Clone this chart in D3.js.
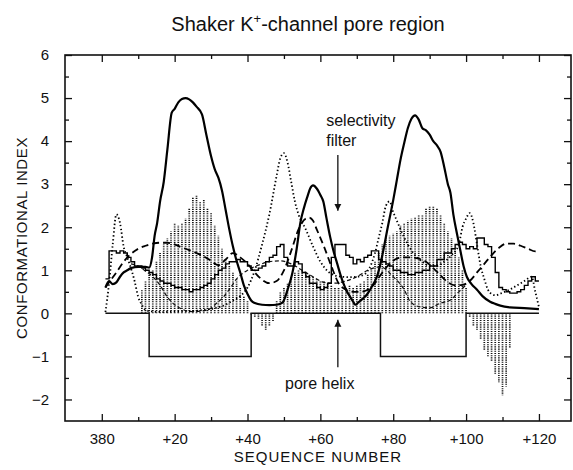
<!DOCTYPE html>
<html>
<head>
<meta charset="utf-8">
<script src="https://cdn.jsdelivr.net/npm/d3@7"></script>
<style>
  body { margin: 0; background: #fff; }
  text { font-family: "Liberation Sans", Arial, sans-serif; fill: #111; }
</style>
</head>
<body>
<div id="chart"></div>
<script>
// sequence offsets are relative to residue 380

// bold solid profile
const boldProfile = [[1,0.6],[2,0.75],[3,0.68],[4,0.72],[5,0.85],[6,0.95],[7,1.0],[8,1.05],[9,1.07],[10,1.08],[11,1.08],[12,1.08],[13,1.06],[13.8,1.3],[14.5,1.8],[15.2,2.1],[16,2.6],[17,3.05],[18,3.8],[19.2,4.66],[20,4.75],[21,4.9],[22,4.98],[23,5.0],[24,4.97],[25,4.9],[26,4.8],[27.5,4.62],[28.7,4.15],[30,3.65],[31,3.35],[32,3.15],[33,2.85],[34,2.4],[35,1.95],[36,1.55],[37,1.22],[38,0.95],[39,0.65],[40,0.45],[41,0.3],[42,0.24],[44,0.2],[46,0.19],[48,0.2],[49.6,0.25],[51,0.55],[52.3,0.93],[53.5,1.5],[54.5,2.1],[55.5,2.45],[56.4,2.7],[57.2,2.9],[58,2.97],[59,2.9],[60,2.75],[60.8,2.6],[61.7,2.2],[62.7,1.77],[63.6,1.45],[64.6,1.16],[65.5,0.9],[66.3,0.7],[67.2,0.52],[68.2,0.38],[69,0.27],[69.6,0.2],[70.5,0.26],[71.5,0.33],[72.9,0.45],[74,0.6],[75,0.75],[75.6,0.87],[76.5,1.15],[77.3,1.47],[78.5,2.0],[80,2.63],[81,3.1],[82,3.57],[83,3.95],[84,4.3],[85,4.52],[86,4.6],[87,4.5],[88,4.3],[89,4.25],[90,4.15],[91,4.0],[92,3.9],[93,3.75],[94,3.4],[95,3.0],[95.7,2.8],[96.5,2.3],[97.5,1.85],[98.4,1.47],[99.3,1.1],[100.2,0.85],[101.5,0.68],[103,0.55],[104.5,0.4],[106.6,0.27],[108,0.22],[109.4,0.18],[112,0.14],[116,0.12],[120,0.1]];

// dotted profile
const dottedProfile = [[1,0.03],[2,0.7],[3,1.6],[4,2.3],[5,2.1],[6,1.55],[7,1.3],[8,1.05],[9,0.75],[10,0.38],[11,0.2],[12,0.08],[14,0.04],[17,0.03],[20,0.04],[24,0.05],[28,0.08],[31,0.12],[34,0.2],[36,0.3],[38,0.4],[40,0.6],[42,1.0],[44,1.6],[46,2.3],[48,3.2],[49,3.6],[50,3.72],[51,3.5],[52,3.05],[53,2.6],[54,2.3],[56,1.95],[58,1.55],[60,1.2],[62,0.98],[64,0.88],[66,0.85],[68,0.84],[70,0.85],[72,0.9],[74,1.15],[75,1.4],[76,1.75],[77,2.1],[78,2.5],[79,2.6],[80,2.35],[81,2.15],[82,1.95],[84,1.6],[86,1.35],[88,1.2],[90,1.1],[92,1.1],[94,1.2],[96,1.35],[98,1.6],[99,2.0],[100,2.2],[101,2.33],[102,2.1],[103,1.6],[104,1.1],[105,0.8],[106,0.55],[107,0.45],[108,0.42],[110,0.48],[112,0.55],[114,0.65],[116,0.75],[118,0.85],[119,0.5],[120,0.15]];

// long-dashed profile
const dashedProfile = [[1,0.6],[2,0.72],[4,0.95],[6,1.2],[8,1.38],[10,1.5],[12,1.57],[14,1.62],[16,1.64],[18,1.64],[20,1.6],[22,1.53],[24,1.47],[26,1.4],[28,1.32],[30,1.22],[32,1.12],[34,1.25],[36,1.4],[38,1.3],[40,1.15],[42,0.95],[44,0.78],[46,0.7],[48,0.75],[50,1.0],[52,1.45],[54,1.95],[56,2.2],[57,2.22],[58,2.15],[59,1.95],[61,1.55],[63,1.1],[65,0.7],[67,0.55],[69,0.5],[71,0.5],[73,0.55],[75,0.7],[77,0.95],[79,1.15],[81,1.27],[83,1.3],[85,1.3],[87,1.27],[89,1.2],[91,1.05],[93,0.88],[95,0.72],[97,0.65],[99,0.66],[101,0.75],[103,0.95],[105,1.15],[107,1.35],[109,1.52],[111,1.62],[113,1.62],[115,1.57],[117,1.5],[119,1.44],[120,1.44]];

// thin bowl-shaped profile
const bowlProfile = [[8,1.15],[10,1.1],[12,0.98],[14,0.85],[16,0.65],[18,0.38],[20,0.2],[22,0.1],[25,0.04],[29,0.08],[31.6,0.24],[33.4,0.38],[35.2,0.58],[37,0.8],[40,1.0],[43,1.12],[46,1.2],[49,1.22],[52,1.15],[55,1.0],[58,0.85],[61,0.72],[64,0.7],[67,0.75],[70,0.85],[73,1.0],[76.5,1.08],[80,0.85],[83,0.55],[84.7,0.27],[87.4,0.15],[90,0.13],[93,0.24],[95.7,0.31],[98,0.5],[100,0.66]];

// step profile (one value per residue)
const stepProfile = [[1,0.8],[2,1.45],[3,1.45],[4,1.4],[5,1.45],[6,1.4],[7,1.3],[8,1.2],[9,1.1],[10,1.1],[11,1.05],[12,1.0],[13,0.95],[14,0.9],[15,0.8],[16,0.75],[17,0.7],[18,0.7],[19,0.65],[20,0.6],[21,0.6],[22,0.55],[23,0.55],[24,0.5],[25,0.55],[26,0.55],[27,0.6],[28,0.65],[29,0.7],[30,0.8],[31,0.9],[32,1.0],[33,1.05],[34,1.15],[35,1.2],[36,1.2],[37,1.25],[38,1.2],[39,1.2],[40,1.1],[41,1.0],[42,1.0],[43,1.05],[44,1.1],[45,1.2],[46,1.3],[47,1.35],[48,1.55],[49,1.6],[50,1.3],[51,1.1],[52,1.1],[53,1.2],[54,1.15],[55,0.95],[56,0.85],[57,0.7],[58,0.7],[59,0.6],[60,0.55],[61,0.6],[62,0.7],[63,1.3],[64,1.6],[65,1.6],[66,1.6],[67,1.35],[68,1.3],[69,1.15],[70,1.25],[71,1.2],[72,1.3],[73,1.35],[74,1.45],[75,1.45],[76,1.25],[77,1.2],[78,1.15],[79,1.1],[80,1.0],[82,0.95],[84,0.9],[86,0.95],[88,1.0],[90,1.1],[92,1.25],[94,1.4],[96,1.5],[97,1.6],[98,1.65],[99,1.6],[100,1.5],[101,1.55],[102,1.5],[103,1.75],[104,1.75],[105,1.6],[106,1.55],[107,1.3],[108,0.95],[109,0.6],[110,0.55],[111,0.5],[112,0.47],[113,0.47],[114,0.5],[115,0.55],[116,0.65],[117,0.75],[118,0.85],[119,0.75],[120,0.75]];

// stippled bars, one per residue
const stippleSeq = d3.range(11, 113);
const stippleVal = [0.55,0.75,0.9,1.0,1.2,1.4,1.6,1.75,1.9,2.1,2.05,2.1,2.2,2.45,2.7,2.75,2.6,2.65,2.45,2.35,2.05,1.8,1.5,1.25,1.1,0.95,0.8,0.6,0.4,0.3,
  -0.05,-0.1,-0.15,-0.3,-0.4,-0.3,-0.2,
  0.3,0.5,0.6,0.7,0.85,0.95,1.0,1.0,0.95,0.9,0.85,0.8,0.75,0.75,0.7,0.65,0.6,0.6,0.55,0.6,0.65,0.6,0.65,0.7,0.75,0.9,1.05,1.2,1.4,
  1.6,1.75,1.8,1.85,1.9,2.05,2.1,2.15,2.2,2.25,2.3,2.3,2.45,2.5,2.5,2.45,2.3,2.1,1.9,1.75,1.5,1.3,1.0,0.6,
  -0.1,-0.3,-0.4,-0.6,-0.85,-1.0,-1.1,-1.4,-1.6,-1.9,-1.7,-0.8];

// pore region outline (0 / -1 blocks)
const blockSeq = [1,13,13,41,41,76.5,76.5,100,100,120];
const blockVal = [0,0,-1,-1,0,0,-1,-1,0,0];

const xMajor = [0,20,40,60,80,100,120];
const xMinor = [10,30,50,70,90,110];
const yMajor = [-2,-1,0,1,2,3,4,5,6];
const yMinor = [-1.5,-0.5,0.5,1.5,2.5,3.5,4.5,5.5];
const xLabel = d => d === 0 ? '380' : '+' + d;

const width = 573, height = 470;
const margin = {t:55, r:2, b:49, l:65};

const svg = d3.select('#chart').append('svg')
  .attr('width', width).attr('height', height);

const x = d3.scaleLinear().domain([-10.1, 128.8]).range([margin.l, width - margin.r]);
const y = d3.scaleLinear().domain([-2.5, 6]).range([height - margin.b, margin.t]);

const font = '"Liberation Sans", Arial, sans-serif';

// stipple bars
svg.append('g').attr('class','stipple')
  .selectAll('line')
  .data(stippleSeq.map((s,i) => [s, stippleVal[i]]))
  .enter().append('line')
  .attr('x1', d => x(d[0])).attr('x2', d => x(d[0]))
  .attr('y1', y(0)).attr('y2', d => y(d[1]))
  .attr('stroke', '#111')
  .attr('stroke-width', 1.7)
  .attr('stroke-dasharray', '1.1,1.1');

const smooth = d3.line().x(d => x(d[0])).y(d => y(d[1])).curve(d3.curveMonotoneX);
const stepped = d3.line().x(d => x(d[0])).y(d => y(d[1])).curve(d3.curveStepAfter);
const straight = d3.line().x(d => x(d[0])).y(d => y(d[1]));

svg.append('path').attr('d', straight(blockSeq.map((s,i) => [s, blockVal[i]])))
  .attr('fill','none').attr('stroke','#111').attr('stroke-width',1.5);

svg.append('path').attr('d', smooth(bowlProfile))
  .attr('fill','none').attr('stroke','#111').attr('stroke-width',1.2)
  .attr('stroke-dasharray','4,2.5');

svg.append('path').attr('d', stepped(stepProfile))
  .attr('fill','none').attr('stroke','#000').attr('stroke-width',1.4);

svg.append('path').attr('d', smooth(dashedProfile))
  .attr('fill','none').attr('stroke','#000').attr('stroke-width',1.8)
  .attr('stroke-dasharray','7,4');

svg.append('path').attr('d', smooth(dottedProfile))
  .attr('fill','none').attr('stroke','#000').attr('stroke-width',1.8)
  .attr('stroke-dasharray','1.4,2.4');

svg.append('path').attr('d', smooth(boldProfile))
  .attr('fill','none').attr('stroke','#000').attr('stroke-width',2.2);

// axes (ticks inward)
function styleAxis(g){
  g.select('.domain').remove();
  g.attr('font-family', font).attr('font-size', 15);
  g.selectAll('line').attr('stroke','#111').attr('stroke-width',1.3);
  g.selectAll('text').style('fill','#111');
}
const plotH = height - margin.b;
svg.append('g').attr('transform',`translate(0,${plotH})`)
  .call(d3.axisBottom(x).tickValues(xMajor).tickSize(-7).tickSizeOuter(0).tickPadding(12).tickFormat(xLabel))
  .call(styleAxis);
svg.append('g').attr('transform',`translate(0,${plotH})`)
  .call(d3.axisBottom(x).tickValues(xMinor).tickSize(-4).tickSizeOuter(0).tickFormat(''))
  .call(styleAxis);
svg.append('g').attr('transform',`translate(0,${margin.t})`)
  .call(d3.axisTop(x).tickValues(xMajor).tickSize(-7).tickSizeOuter(0).tickFormat(''))
  .call(styleAxis);
svg.append('g').attr('transform',`translate(0,${margin.t})`)
  .call(d3.axisTop(x).tickValues(xMinor).tickSize(-4).tickSizeOuter(0).tickFormat(''))
  .call(styleAxis);
svg.append('g').attr('transform',`translate(${margin.l},0)`)
  .call(d3.axisLeft(y).tickValues(yMajor).tickSize(-7).tickSizeOuter(0).tickPadding(16).tickFormat(d3.format('d')))
  .call(styleAxis);
svg.append('g').attr('transform',`translate(${margin.l},0)`)
  .call(d3.axisLeft(y).tickValues(yMinor).tickSize(-4).tickSizeOuter(0).tickFormat(''))
  .call(styleAxis);
svg.append('g').attr('transform',`translate(${width - margin.r},0)`)
  .call(d3.axisRight(y).tickValues(yMajor).tickSize(-7).tickSizeOuter(0).tickFormat(''))
  .call(styleAxis);
svg.append('g').attr('transform',`translate(${width - margin.r},0)`)
  .call(d3.axisRight(y).tickValues(yMinor).tickSize(-4).tickSizeOuter(0).tickFormat(''))
  .call(styleAxis);

// frame
svg.append('rect')
  .attr('x', margin.l).attr('y', margin.t)
  .attr('width', width - margin.r - margin.l).attr('height', plotH - margin.t)
  .attr('fill','none').attr('stroke','#111').attr('stroke-width',1.6);

// arrows
const defs = svg.append('defs');
defs.append('marker').attr('id','head')
  .attr('viewBox','0 0 10 10').attr('refX',10).attr('refY',5)
  .attr('markerWidth',7).attr('markerHeight',9).attr('markerUnits','userSpaceOnUse')
  .attr('orient','auto')
  .append('path').attr('d','M0,0L10,5L0,10z').attr('fill','#111');

svg.append('line')
  .attr('x1', x(64.8)).attr('x2', x(64.8)).attr('y1', y(3.68)).attr('y2', y(2.38))
  .attr('stroke','#111').attr('stroke-width',1.3).attr('marker-end','url(#head)');
svg.append('line')
  .attr('x1', x(64.8)).attr('x2', x(64.8)).attr('y1', y(-1.25)).attr('y2', y(-0.15))
  .attr('stroke','#111').attr('stroke-width',1.3).attr('marker-end','url(#head)');

// annotation text
svg.append('text').attr('x', x(61.6)).attr('y', y(4.35)).attr('font-size',16).text('selectivity');
svg.append('text').attr('x', x(61.6)).attr('y', y(3.88)).attr('font-size',16).text('filter');
svg.append('text').attr('x', x(50.3)).attr('y', y(-1.75)).attr('font-size',16).text('pore helix');

// titles
const title = svg.append('text').attr('x', 308).attr('y', 31)
  .attr('text-anchor','middle').attr('font-size',20);
title.append('tspan').text('Shaker K');
title.append('tspan').attr('dy',-8).attr('font-size',13).text('+');
title.append('tspan').attr('dy',8).text('-channel pore region');

svg.append('text').attr('x', 318).attr('y', 462)
  .attr('text-anchor','middle').attr('font-size',15).attr('letter-spacing',1)
  .text('SEQUENCE  NUMBER');

svg.append('text')
  .attr('transform','translate(27,238) rotate(-90)')
  .attr('text-anchor','middle').attr('font-size',15).attr('letter-spacing',0.6)
  .text('CONFORMATIONAL  INDEX');
</script>
</body>
</html>
